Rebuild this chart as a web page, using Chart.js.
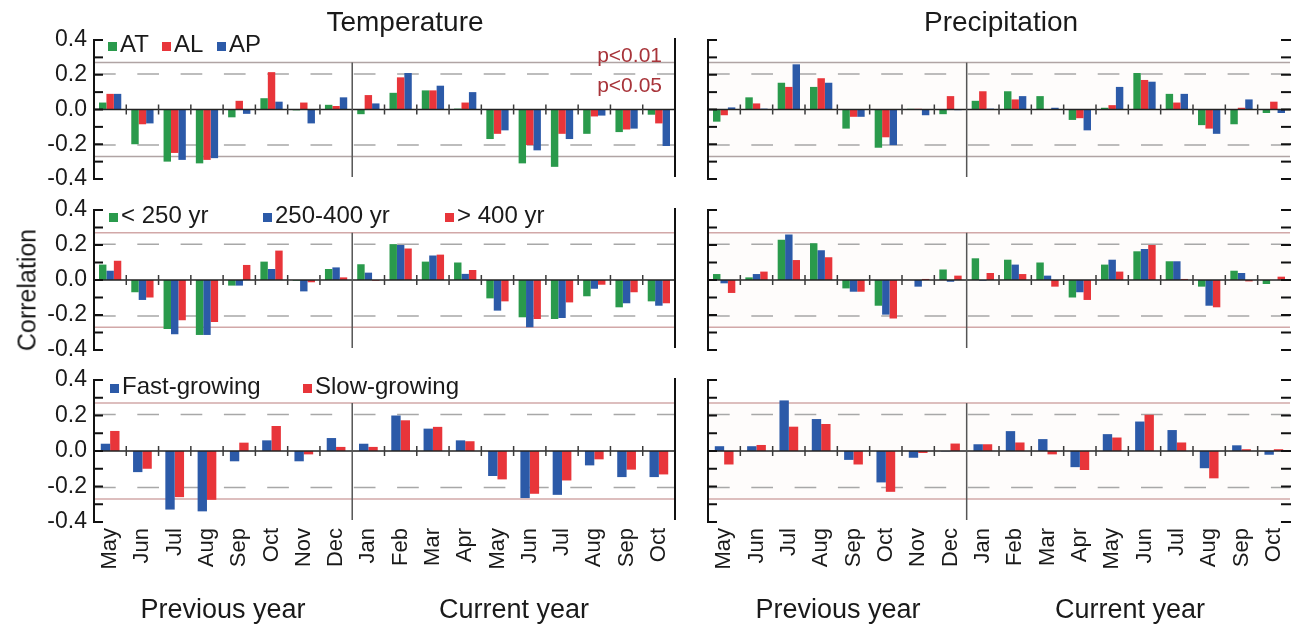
<!DOCTYPE html>
<html><head><meta charset="utf-8">
<script src="https://cdn.jsdelivr.net/npm/chart.js@4.4.1/dist/chart.umd.min.js"></script>
<style>
html,body{margin:0;padding:0;background:#fff;}
#wrap{position:relative;width:1293px;height:627px;overflow:hidden;font-family:"Liberation Sans",Arial,Helvetica,sans-serif;color:#1a1a1a;}
canvas{position:absolute;}
.t{position:absolute;white-space:nowrap;line-height:1;}
.sq{position:absolute;width:9px;height:9px;}
</style></head><body><div id="wrap"></div>
<script>
// ---------- data ----------
const months = ['May','Jun','Jul','Aug','Sep','Oct','Nov','Dec','Jan','Feb','Mar','Apr','May','Jun','Jul','Aug','Sep','Oct'];
const P05 = 0.205, P01 = 0.27;
const yTickValues = [0.4, 0.2, 0, -0.2, -0.4];
const yTickText = ['0.4', '0.2', '0.0', '-0.2', '-0.4'];

// Row 1: AT / AL / AP
const tempAT = [0.04,-0.20,-0.30,-0.31,-0.045,0.065,-0.005,0.027, -0.027,0.096,0.11,0.005,-0.17,-0.31,-0.33,-0.14,-0.13,-0.03];
const tempAL = [0.09,-0.085,-0.25,-0.29,0.05,0.215,0.04,0.02, 0.083,0.185,0.11,0.04,-0.14,-0.205,-0.14,-0.04,-0.115,-0.08];
const tempAP = [0.09,-0.08,-0.29,-0.28,-0.025,0.045,-0.08,0.07, 0.035,0.21,0.137,0.10,-0.12,-0.235,-0.17,-0.035,-0.11,-0.21];
const precAT = [-0.07,0.07,0.154,0.13,-0.11,-0.22,0.004,-0.027, 0.05,0.105,0.077,-0.06,0.01,0.21,0.09,-0.09,-0.085,-0.02];
const precAL = [-0.033,0.035,0.13,0.18,-0.042,-0.16,0.004,0.077, 0.105,0.058,0.0,-0.05,0.025,0.17,0.04,-0.11,0.01,0.045];
const precAP = [0.012,0.005,0.26,0.154,-0.042,-0.205,-0.033,-0.004, 0.005,0.077,0.01,-0.12,0.13,0.16,0.09,-0.14,0.058,-0.02];

// Row 2: age classes
const tAgeY = [0.088,-0.07,-0.28,-0.314,-0.032,0.105,-0.004,0.063, 0.09,0.205,0.105,0.10,-0.105,-0.213,-0.223,-0.093,-0.156,-0.122];
const tAgeM = [0.053,-0.114,-0.31,-0.314,-0.032,0.063,-0.065,0.072, 0.042,0.20,0.14,0.035,-0.175,-0.27,-0.217,-0.05,-0.133,-0.147];
const tAgeO = [0.11,-0.10,-0.23,-0.24,0.086,0.168,-0.013,0.015, -0.004,0.18,0.145,0.057,-0.122,-0.223,-0.128,-0.027,-0.07,-0.133];
const pAgeY = [0.034,0.015,0.23,0.21,-0.048,-0.147,0.0,0.06, 0.124,0.116,0.10,-0.10,0.088,0.164,0.107,-0.038,0.053,-0.023];
const pAgeM = [-0.019,0.034,0.26,0.17,-0.067,-0.198,-0.038,-0.01, -0.004,0.088,0.025,-0.07,0.116,0.177,0.107,-0.147,0.04,0.0];
const pAgeO = [-0.074,0.048,0.114,0.13,-0.067,-0.22,0.006,0.025, 0.04,0.034,-0.038,-0.114,0.048,0.20,0.006,-0.156,-0.008,0.019];

// Row 3: growth classes
const tFast = [0.041,-0.119,-0.33,-0.34,-0.058,0.06,-0.058,0.073, 0.041,0.20,0.126,0.06,-0.141,-0.265,-0.247,-0.081,-0.147,-0.147];
const tSlow = [0.113,-0.10,-0.26,-0.275,0.047,0.141,-0.019,0.023, 0.023,0.173,0.136,0.055,-0.16,-0.241,-0.166,-0.047,-0.105,-0.132];
const pFast = [0.027,0.027,0.285,0.18,-0.05,-0.177,-0.038,-0.002, 0.038,0.112,0.067,-0.091,0.095,0.166,0.118,-0.097,0.032,-0.021];
const pSlow = [-0.076,0.034,0.137,0.152,-0.076,-0.23,-0.011,0.042, 0.038,0.048,-0.019,-0.107,0.076,0.204,0.048,-0.154,0.01,0.01];

// ---------- styling / layout ----------
const FONT = '"Liberation Sans", Arial, Helvetica, sans-serif';
const GREEN = '#2a9a4c', RED = '#e8353a', BLUE = '#2c5aa8';
const rowsTop = [40, 210, 380], rowsBot = [179, 350, 522], axisBottom = 605;
const cols = [{cl:0, cw:685, pl:94, pr:675}, {cl:685, cw:608, pl:708, pr:1290}];
const dividerAfter = 7; // last index of previous year

const panels = [
  {r:0, c:0, cat:0.69, series:[['AT',tempAT,GREEN],['AL',tempAL,RED],['AP',tempAP,BLUE]]},
  {r:0, c:1, cat:0.69, series:[['AT',precAT,GREEN],['AL',precAL,RED],['AP',precAP,BLUE]]},
  {r:1, c:0, cat:0.69, series:[['< 250 yr',tAgeY,GREEN],['250-400 yr',tAgeM,BLUE],['> 400 yr',tAgeO,RED]]},
  {r:1, c:1, cat:0.69, series:[['< 250 yr',pAgeY,GREEN],['250-400 yr',pAgeM,BLUE],['> 400 yr',pAgeO,RED]]},
  {r:2, c:0, cat:0.58, series:[['Fast-growing',tFast,BLUE],['Slow-growing',tSlow,RED]]},
  {r:2, c:1, cat:0.58, series:[['Fast-growing',pFast,BLUE],['Slow-growing',pSlow,RED]]}
];
const legendPos = [[108,162,217],[109,263,445],[110,303]];
const legendBase = [52, 223, 394];

function yLabel(v){
  for (let i=0;i<yTickValues.length;i++) if (Math.abs(v-yTickValues[i])<1e-6) return yTickText[i];
  return '';
}

const decor = {
  id:'decor',
  beforeDatasetsDraw(chart, args, o){
    const {ctx, chartArea:a, scales:{x, y}} = chart;
    ctx.save();
    if (o.col === 1){
      ctx.fillStyle = 'rgba(248,232,226,0.15)';
      ctx.fillRect(a.left, y.getPixelForValue(P01), a.right-a.left, y.getPixelForValue(-P01)-y.getPixelForValue(P01));
    }
    ctx.lineWidth = 1.5;
    ctx.strokeStyle = o.row===0 ? '#b0a4a4' : '#d2a8a8';
    [P01, -P01].forEach(v=>{ const py=y.getPixelForValue(v); ctx.beginPath(); ctx.moveTo(a.left,py); ctx.lineTo(a.right,py); ctx.stroke(); });
    ctx.strokeStyle = '#a8a8a8';
    ctx.setLineDash([21.7, 21.6]);
    [P05, -P05].forEach(v=>{ const py=y.getPixelForValue(v); ctx.beginPath(); ctx.moveTo(a.left,py); ctx.lineTo(a.right,py); ctx.stroke(); });
    ctx.setLineDash([]);
    ctx.restore();
  },
  afterDatasetsDraw(chart, args, o){
    const {ctx, chartArea:a, scales:{x, y}} = chart;
    ctx.save();
    const y0 = y.getPixelForValue(0);
    // zero line
    ctx.strokeStyle = '#222'; ctx.lineWidth = 1.5;
    ctx.beginPath(); ctx.moveTo(a.left, y0); ctx.lineTo(a.right, y0); ctx.stroke();
    // boundary ticks on zero line
    ctx.strokeStyle = '#3a3a3a';
    for (let i=0;i<months.length-1;i++){
      if (i===dividerAfter) continue;
      const bx = (x.getPixelForValue(i)+x.getPixelForValue(i+1))/2;
      ctx.beginPath(); ctx.moveTo(bx, y0-5); ctx.lineTo(bx, y0+5); ctx.stroke();
    }
    // year divider
    const dx = (x.getPixelForValue(dividerAfter)+x.getPixelForValue(dividerAfter+1))/2;
    ctx.strokeStyle = '#555'; ctx.lineWidth = 1.5;
    ctx.beginPath(); ctx.moveTo(dx, y.getPixelForValue(P01)); ctx.lineTo(dx, a.bottom-2); ctx.stroke();
    // left axis with inward ticks
    ctx.strokeStyle = '#111'; ctx.lineWidth = 2;
    ctx.beginPath(); ctx.moveTo(a.left, a.top); ctx.lineTo(a.left, a.bottom); ctx.stroke();
    y.ticks.forEach(t=>{ const py=y.getPixelForValue(t.value); ctx.beginPath(); ctx.moveTo(a.left-1,py); ctx.lineTo(a.left+9,py); ctx.stroke(); });
    if (o.col === 0){
      ctx.beginPath(); ctx.moveTo(a.right, a.top-2); ctx.lineTo(a.right, a.bottom-2); ctx.stroke();
    } else {
      y.ticks.forEach(t=>{ const py=y.getPixelForValue(t.value); ctx.beginPath(); ctx.moveTo(a.right-9,py); ctx.lineTo(a.right+1,py); ctx.stroke(); });
    }
    ctx.restore();
  }
};

const wrap = document.getElementById('wrap');

panels.forEach(p=>{
  const col = cols[p.c];
  const top = rowsTop[p.r]-15;
  const bottom = p.r<2 ? rowsBot[p.r]+15 : axisBottom;
  const cv = document.createElement('canvas');
  cv.width = col.cw; cv.height = bottom-top;
  cv.style.left = col.cl+'px'; cv.style.top = top+'px';
  cv.style.width = col.cw+'px'; cv.style.height = (bottom-top)+'px';
  wrap.appendChild(cv);
  const showX = p.r===2;
  new Chart(cv, {
    type:'bar',
    data:{labels:months, datasets:p.series.map(s=>({label:s[0], data:s[1], backgroundColor:s[2], borderWidth:0, barPercentage:1, categoryPercentage:p.cat}))},
    options:{
      responsive:false, animation:false,
      layout:{padding:{top:15, bottom:showX?0:15, left:0, right:col.cl+col.cw-col.pr}},
      plugins:{legend:{display:false}, tooltip:{enabled:false}, decor:{col:p.c, row:p.r}},
      scales:{
        x:{display:showX, grid:{display:false, drawTicks:false}, border:{display:false},
           ticks:{autoSkip:false, minRotation:90, maxRotation:90, padding:6, font:{size:22, family:FONT}, color:'#1a1a1a'},
           afterFit(s){ s.height = showX ? axisBottom-rowsBot[2] : 0; s.paddingLeft = 0; s.paddingRight = 0; }},
        y:{min:-0.4, max:0.4, grid:{display:false, drawTicks:false}, border:{display:false},
           ticks:{stepSize:0.1, autoSkip:false, padding:7, font:{size:23, family:FONT}, color:'#1a1a1a',
                  callback:v=> p.c===0 ? yLabel(v) : ''},
           afterFit(s){ s.width = col.pl-col.cl; s.paddingTop = 0; s.paddingBottom = 0; }}
      }
    },
    plugins:[decor]
  });
});

// ---------- text ----------
function addText(txt, x, base, size, align, color, rot){
  const d = document.createElement('div');
  d.className = 't'; d.textContent = txt;
  d.style.fontSize = size+'px';
  if (color) d.style.color = color;
  if (rot){
    d.style.left = x+'px'; d.style.top = base+'px';
    d.style.transform = 'translate(-50%,-50%) rotate(-90deg)';
  } else {
    d.style.left = x+'px'; d.style.top = (base-0.8465*size)+'px';
    if (align==='center') d.style.transform='translateX(-50%)';
    else if (align==='right') d.style.transform='translateX(-100%)';
  }
  wrap.appendChild(d);
}
addText('Temperature', 405, 32, 28, 'center');
addText('Precipitation', 1001, 32, 28, 'center');
addText('Correlation', 27, 290, 25, 'center', null, true);
addText('Previous year', 223, 619, 27, 'center');
addText('Current year', 514, 619, 27, 'center');
addText('Previous year', 838, 619, 27, 'center');
addText('Current year', 1130, 619, 27, 'center');
addText('p<0.01', 662, 62, 21, 'right', '#a8343a');
addText('p<0.05', 662, 92, 21, 'right', '#a8343a');

// legends (left column only)
[0,1,2].forEach(r=>{
  const p = panels[r*2];
  p.series.forEach((s,i)=>{
    const sx = legendPos[r][i];
    const sq = document.createElement('div');
    sq.className='sq'; sq.style.background=s[2];
    sq.style.left=sx+'px'; sq.style.top=(legendBase[r]-10)+'px';
    wrap.appendChild(sq);
    addText(s[0], sx+12, legendBase[r], 24, 'left');
  });
});
</script></body></html>
